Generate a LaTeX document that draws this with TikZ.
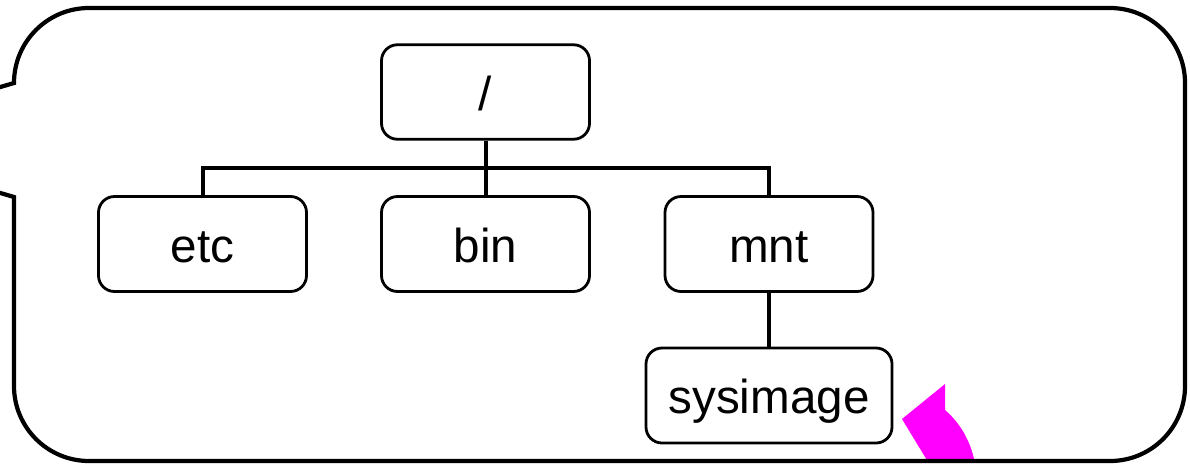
\documentclass[tikz,border=0pt]{standalone}
\usepackage{fontspec}
\setmainfont{Liberation Sans}
\definecolor{pointer}{RGB}{255,0,255}
\tikzset{
  dirbox/.style={draw=black,line width=2.8pt,rounded corners=16pt,fill=white,inner sep=0pt,font=\fontsize{47.6}{52}\selectfont,text height=36pt,text depth=0pt,anchor=center},
  wire/.style={draw=black,line width=4pt},
  callout/.style={draw=black,line width=4.2pt,miter limit=10},
}
\begin{document}
\begin{tikzpicture}[x=1pt,y=-1pt]
\useasboundingbox (0,0) rectangle (1190,464);
% pointer tail
\fill[pointer] (945,384) -- (945,410) .. controls (960,423) and (970,440) .. (974.5,461) -- (927.5,461) -- (902,419) -- cycle;
% callout body
\draw[callout] (-3,88) -- (14,83) arc[start angle=180,end angle=90,x radius=75,y radius=-75] -- (1110,8)
  arc[start angle=90,end angle=0,x radius=75,y radius=-75] -- (1185,386)
  arc[start angle=0,end angle=-90,x radius=75,y radius=-75] -- (89,461)
  arc[start angle=270,end angle=180,x radius=75,y radius=-75] -- (14,197) -- (-3,192);
% nodes
\node[dirbox,minimum width=208pt,minimum height=94.5pt] (root) at (485.5,92) {/};
\node[dirbox,minimum width=208pt,minimum height=95pt] (etc) at (202.5,244) {etc};
\node[dirbox,minimum width=208pt,minimum height=95pt] (bin) at (485.5,244) {bin};
\node[dirbox,minimum width=208pt,minimum height=95pt] (mnt) at (769,244) {mnt};
\node[dirbox,minimum width=246pt,minimum height=95pt] (sys) at (769,395.5) {sysimage};
\coordinate (bus) at (485.5,168);
% connectors
\draw[wire] (root.south) -- (bin.north);
\draw[wire] (etc.north) |- (bus) -| (mnt.north);
\draw[wire] (mnt.south) -- (sys.north);
\end{tikzpicture}
\end{document}
